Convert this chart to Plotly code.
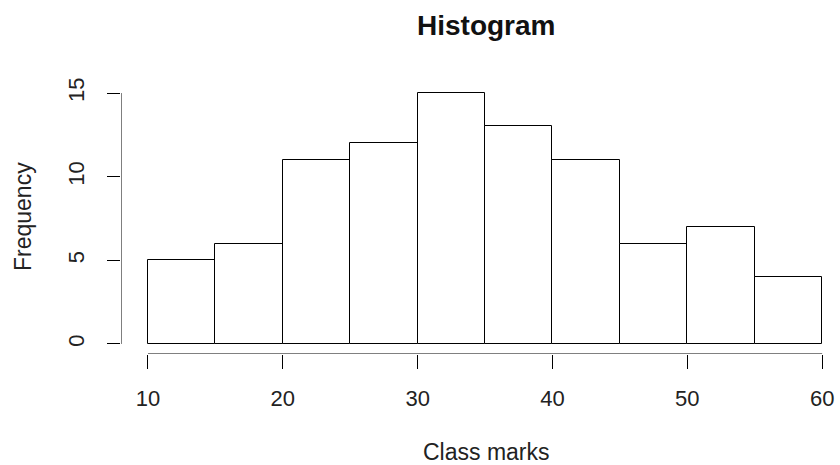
import plotly.graph_objects as go

# Data
bin_edges = [10, 15, 20, 25, 30, 35, 40, 45, 50, 55, 60]
counts = [5, 6, 11, 12, 15, 13, 11, 6, 7, 4]
x_ticks = [10, 20, 30, 40, 50, 60]
y_ticks = [0, 5, 10, 15]
title_text = "Histogram"
x_label = "Class marks"
y_label = "Frequency"

centers = [(a + b) / 2 for a, b in zip(bin_edges[:-1], bin_edges[1:])]
widths = [b - a for a, b in zip(bin_edges[:-1], bin_edges[1:])]

x_range = [8, 61.1]
y_range = [-0.6, 15.6]

FONT = "Liberation Sans, Arial, sans-serif"

fig = go.Figure()
fig.add_trace(go.Bar(
    x=centers, y=counts, width=widths,
    marker=dict(color="white", line=dict(color="black", width=1)),
    hoverinfo="skip", showlegend=False,
))
# R-style detached axis lines
fig.add_trace(go.Scatter(
    x=[x_ticks[0], x_ticks[-1]], y=[y_range[0], y_range[0]],
    mode="lines", line=dict(color="black", width=1),
    cliponaxis=False, hoverinfo="skip", showlegend=False,
))
fig.add_trace(go.Scatter(
    x=[x_range[0], x_range[0]], y=[y_ticks[0], y_ticks[-1]],
    mode="lines", line=dict(color="black", width=1),
    cliponaxis=False, hoverinfo="skip", showlegend=False,
))

W, H = 840, 465
l, r, t, b = 121, 3, 83, 111

fig.update_layout(
    width=W, height=H,
    margin=dict(l=l, r=r, t=t, b=b, autoexpand=False),
    paper_bgcolor="white", plot_bgcolor="white",
    bargap=0,
    font=dict(family=FONT, color="black"),
    xaxis=dict(
        range=x_range, tickvals=x_ticks, ticks="outside", ticklen=14,
        tickcolor="black", tickwidth=1, showline=False, showgrid=False,
        zeroline=False, tickfont=dict(size=22, color="#222"),
        ticklabelstandoff=11,
    ),
    yaxis=dict(
        range=y_range, tickvals=y_ticks, ticks="outside", ticklen=13,
        tickcolor="black", tickwidth=1, showline=False, showgrid=False,
        zeroline=False, tickangle=-90, tickfont=dict(size=22, color="#222"),
        ticklabelstandoff=14,
    ),
)

pw, ph = W - l - r, H - t - b


def px_to_paper(px, py):
    return (px - l) / pw, (H - b - py) / ph


texts = [
    ("<b>%s</b>" % title_text, 486, 26, 28, "#111", 0),
    (x_label, 486, 452, 23, "#222", 0),
    (y_label, 23, 217, 23, "#222", -90),
]
for txt, px, py, size, col, ang in texts:
    ax, ay = px_to_paper(px, py)
    fig.add_annotation(text=txt, x=ax, y=ay, xref="paper", yref="paper",
                       xanchor="center", yanchor="middle", showarrow=False,
                       textangle=ang, font=dict(size=size, color=col))

fig.write_html("out.html",
               config={"displayModeBar": False},
               post_script="document.body.style.margin='0';document.body.style.padding='0';")
